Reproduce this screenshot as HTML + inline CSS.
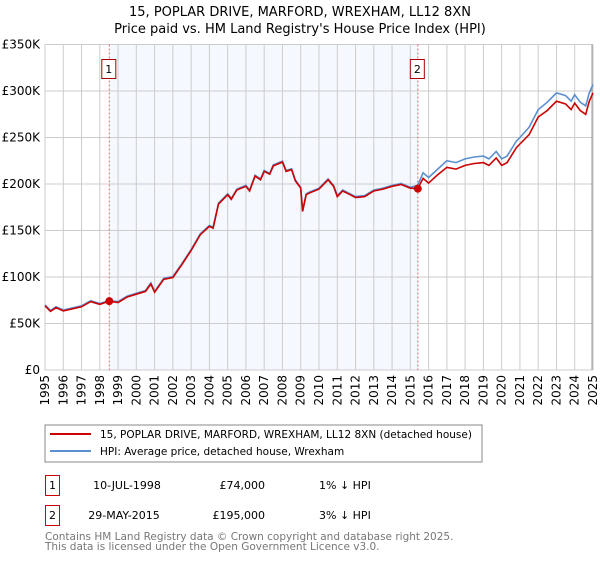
<!DOCTYPE html>
<html><head><meta charset="utf-8"><style>
body{margin:0;background:#fff;font-family:"Liberation Sans","DejaVu Sans",sans-serif}
svg text{font-family:"DejaVu Sans","Liberation Sans",sans-serif}
</style></head><body>
<svg id="c" width="600" height="560" xmlns="http://www.w3.org/2000/svg">
<text x="300" y="16" text-anchor="middle" font-size="13">15, POPLAR DRIVE, MARFORD, WREXHAM, LL12 8XN</text>
<text x="300" y="33" text-anchor="middle" font-size="13">Price paid vs. HM Land Registry's House Price Index (HPI)</text>
<g id="plot"></g>
<rect x="45" y="425" width="437" height="37" fill="#fff" stroke="#888"/>
<line x1="50" y1="434" x2="91" y2="434" stroke="#cc0000" stroke-width="2"/>
<text x="100" y="438" font-size="10.5">15, POPLAR DRIVE, MARFORD, WREXHAM, LL12 8XN (detached house)</text>
<line x1="50" y1="451" x2="91" y2="451" stroke="#5b8fd0" stroke-width="2"/>
<text x="100" y="455" font-size="10.5">HPI: Average price, detached house, Wrexham</text>
<g font-size="11">
<rect x="45.5" y="475.5" width="14" height="20" fill="none" stroke="#cc0000"/>
<text x="52.5" y="489" text-anchor="middle">1</text>
<text x="127" y="489" text-anchor="middle">10-JUL-1998</text>
<text x="265" y="489" text-anchor="end">£74,000</text>
<text x="319" y="489">1% ↓ HPI</text>
</g>
<g font-size="11">
<rect x="45.5" y="505.5" width="14" height="20" fill="none" stroke="#cc0000"/>
<text x="52.5" y="519" text-anchor="middle">2</text>
<text x="124" y="519" text-anchor="middle">29-MAY-2015</text>
<text x="265" y="519" text-anchor="end">£195,000</text>
<text x="319" y="519">3% ↓ HPI</text>
</g>
<text x="45" y="540" font-size="10.5" fill="#777">Contains HM Land Registry data © Crown copyright and database right 2025.</text>
<text x="45" y="550" font-size="10.5" fill="#777">This data is licensed under the Open Government Licence v3.0.</text>
</svg>
<script>
const years=[1995,1995.3,1995.6,1996,1997,1997.5,1998,1998.5,1999,1999.5,2000,2000.5,2000.8,2001,2001.5,2002,2002.5,2003,2003.5,2004,2004.2,2004.5,2005,2005.2,2005.5,2006,2006.2,2006.5,2006.8,2007,2007.3,2007.5,2008,2008.2,2008.5,2008.7,2009,2009.1,2009.3,2009.5,2010,2010.5,2010.8,2011,2011.3,2011.7,2012,2012.5,2013,2013.5,2014,2014.5,2015,2015.4,2015.7,2016,2016.5,2017,2017.5,2018,2018.5,2019,2019.3,2019.7,2020,2020.3,2020.8,2021,2021.5,2022,2022.5,2023,2023.5,2023.8,2024,2024.3,2024.6,2024.8,2025];
const hpi=[70,64,68,64.5,69,74.5,71.5,74.5,73.5,79.5,82.5,85.5,93.5,84.5,98.5,100.5,114.5,129.5,146.5,155.5,153.5,179.5,189.5,184.5,194.5,198.5,193.5,209.5,205.5,214.5,211.5,220.5,224.5,214.5,216.5,204.5,196.5,171.5,189.5,191.5,195.5,205.5,198.5,187.5,193.5,189.5,186.5,187.5,193.5,195.5,198.5,200.5,196.5,198.5,212,207,216,225,223,227,229,230,227,235,227,230,246,250,261,280,288,298,295,289,296,288,284,298,307];
const price=[69,63,67,63.5,68,73.5,70.5,74,72.5,78.5,81.5,84.5,92.5,83.5,97.5,99.5,113.5,128.5,145.5,154.5,152.5,178.5,188.5,183.5,193.5,197.5,192.5,208.5,204.5,213.5,210.5,219.5,223.5,213.5,215.5,203.5,195.5,170.5,188.5,190.5,194.5,204.5,197.5,186.5,192.5,188.5,185.5,186.5,192.5,194.5,197.5,199.5,195.5,195,206,201,210,218,216,220,222,223,220,228,220,223,239,243,253,272,279,289,286,280,287,279,275,289,298];
const yTicks=[0,50,100,150,200,250,300,350];
const yTickLabels=["£0","£50K","£100K","£150K","£200K","£250K","£300K","£350K"];
const xTicks=[1995,1996,1997,1998,1999,2000,2001,2002,2003,2004,2005,2006,2007,2008,2009,2010,2011,2012,2013,2014,2015,2016,2017,2018,2019,2020,2021,2022,2023,2024,2025];
const sales=[{n:"1",t:1998.52,v:74},{n:"2",t:2015.41,v:195}];
const X0=45,X1=593,Y0=370,Y1=44.5;
const xs=t=>X0+(t-1995)/30*(X1-X0);
const ys=v=>Y0-v/350*(Y0-Y1);
const NS="http://www.w3.org/2000/svg",g=document.getElementById('plot');
function mk(tag,a){const e=document.createElementNS(NS,tag);for(const k in a)e.setAttribute(k,a[k]);g.appendChild(e);return e;}
let e;
e=mk('rect',{x:xs(sales[0].t),y:Y1,width:xs(sales[1].t)-xs(sales[0].t),height:Y0-Y1,fill:'#f5f8fe'});


xTicks.forEach(t=>{
 e=mk('line',{x1:xs(t),x2:xs(t),y1:Y1,y2:Y0,stroke:'#ccc'});
 
 
 e=mk('text',{x:0,y:0,'font-size':12,'text-anchor':'end',transform:`translate(${xs(t)+4},${Y0+5}) rotate(-90)`});
 e.textContent=t;
 
 
});
yTicks.forEach((v,i)=>{
 e=mk('line',{x1:X0,x2:X1,y1:ys(v),y2:ys(v),stroke:'#ccc'});
 
 
 e=mk('text',{x:40,y:ys(v)+4,'font-size':12,'text-anchor':'end'});
 e.textContent=yTickLabels[i];
 
 
});
e=mk('line',{x1:X1-1,x2:X1-1,y1:Y1,y2:Y0,stroke:'#999'});


sales.forEach(s=>{
 e=mk('line',{x1:xs(s.t),x2:xs(s.t),y1:Y1,y2:Y0,stroke:'#e06666','stroke-dasharray':'2,2'});
 
 
});
const pts=arr=>arr.map((v,i)=>xs(years[i]).toFixed(1)+','+ys(v).toFixed(1)).join(' ');
e=mk('polyline',{points:pts(hpi),fill:'none',stroke:'#5b8fd0','stroke-width':1.6});


e=mk('polyline',{points:pts(price),fill:'none',stroke:'#cc0000','stroke-width':1.6});


sales.forEach(s=>{
 e=mk('circle',{cx:xs(s.t),cy:ys(s.v),r:4,fill:'#cc0000'});
 
 
 e=mk('rect',{x:xs(s.t)-7.5,y:59.5,width:14,height:19,fill:'#fff',stroke:'#aa0000'});
 
 
 e=mk('text',{x:xs(s.t)-0.5,y:73,'font-size':11,'text-anchor':'middle'});
 e.textContent=s.n;
 
 
});
</script>
</body></html>
